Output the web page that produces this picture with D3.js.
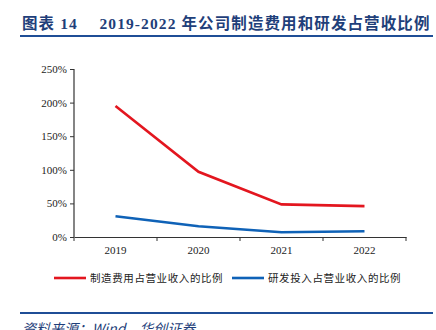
<!DOCTYPE html>
<html>
<head>
<meta charset="utf-8">
<script src="https://cdn.jsdelivr.net/npm/d3@7"></script>
<style>
body{margin:0;background:#fff;}
svg{display:block;}
</style>
</head>
<body>
<svg id="svg" width="436" height="330"></svg>
<script>
var years=["2019","2020","2021","2022"];
var mfgRatio=[1.95,0.97,0.485,0.46];
var rdRatio=[0.31,0.16,0.07,0.085];
var yTicks=[0,0.5,1,1.5,2,2.5];
var seriesNames=["制造费用占营业收入的比例","研发投入占营业收入的比例"];
var seriesColors=["#e3161f","#0f62b7"];

var svg=d3.select("#svg");
var navy="#1f3f7a";

// title
svg.append("text")
  .attr("x",22).attr("y",29)
  .attr("fill",navy)
  .attr("font-family","'Liberation Serif','Noto Sans CJK SC',serif")
  .attr("font-weight","bold")
  .attr("font-size","15.5px")
  .attr("letter-spacing","1.1px")
  .text("图表 14\u2003 2019-2022 年公司制造费用和研发占营收比例");
svg.append("line")
  .attr("x1",20).attr("x2",433).attr("y1",36).attr("y2",36)
  .attr("stroke","#1f4e96").attr("stroke-width",2);

var x=d3.scaleBand().domain(years).range([74,406]);
var y=d3.scaleLinear().domain([0,2.5]).range([237,69]);

var yAxis=d3.axisLeft(y).tickValues(yTicks).tickSize(4)
  .tickFormat(function(d){return Math.round(d*100)+"%";});
var gy=svg.append("g").attr("transform","translate(74,0)").call(yAxis);
var xAxis=d3.axisBottom(x).tickSize(0).tickPadding(9);
var gx=svg.append("g").attr("transform","translate(0,237)").call(xAxis);

// x ticks at band edges
svg.selectAll(".xtick").data(years.concat(["end"])).enter()
  .append("line")
  .attr("x1",function(d,i){return 74+i*x.bandwidth();})
  .attr("x2",function(d,i){return 74+i*x.bandwidth();})
  .attr("y1",237).attr("y2",241)
  .attr("stroke","#333");

[gx,gy].forEach(function(g){
  g.select(".domain").attr("stroke","#333").attr("stroke-width",1.2);
  g.selectAll(".tick line").attr("stroke","#333");
  g.selectAll("text")
    .attr("font-family","'Liberation Serif','Times New Roman',serif")
    .attr("font-size","11px").attr("fill","#222");
});
gy.select(".domain").attr("d","M0,237V69");
gy.selectAll(".tick text").attr("x",-7);

var line=d3.line()
  .x(function(d,i){return x(years[i])+x.bandwidth()/2;})
  .y(function(d){return y(d);});

[mfgRatio,rdRatio].forEach(function(vals,k){
  svg.append("path")
    .datum(vals)
    .attr("d",line)
    .attr("fill","none")
    .attr("stroke",seriesColors[k])
    .attr("stroke-width",2.6);
});

// legend
var legendX=[54,232];
seriesNames.forEach(function(name,k){
  svg.append("line")
    .attr("x1",legendX[k]).attr("x2",legendX[k]+32)
    .attr("y1",278).attr("y2",278)
    .attr("stroke",seriesColors[k]).attr("stroke-width",2.6);
  svg.append("text")
    .attr("x",legendX[k]+36).attr("y",282)
    .attr("font-family","'Noto Sans CJK SC',sans-serif")
    .attr("font-size","10.5px")
    .attr("letter-spacing","0.6px")
    .attr("fill","#222")
    .text(name);
});

svg.append("line")
  .attr("x1",20).attr("x2",433).attr("y1",313).attr("y2",313)
  .attr("stroke","#1f4e96").attr("stroke-width",2);
svg.append("text")
  .attr("x",22).attr("y",334)
  .attr("fill",navy)
  .attr("font-family","'Noto Sans CJK SC',sans-serif")
  .attr("font-style","italic")
  .attr("font-size","14px")
  .text("资料来源：Wind，华创证券");
</script>
</body>
</html>
